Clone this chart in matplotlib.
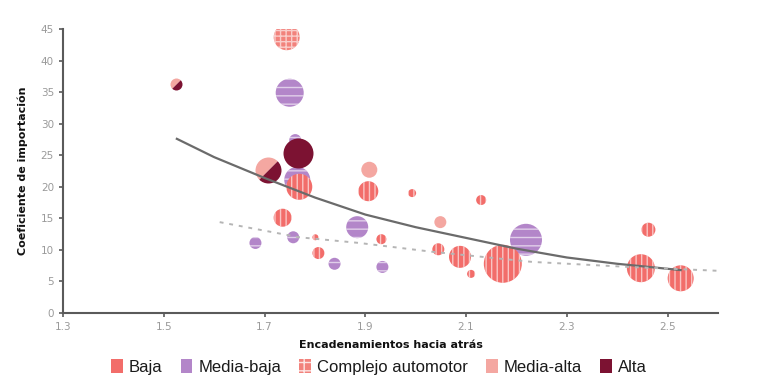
import numpy as np
import matplotlib
matplotlib.use("Agg")
from matplotlib import pyplot as plt
from matplotlib.markers import MarkerStyle
from matplotlib.patches import Patch
from matplotlib.transforms import Affine2D

# categories and colours
categorias = ['Baja', 'Media-baja', 'Complejo automotor', 'Media-alta', 'Alta']
colores = {'Baja': '#f26d6a', 'Media-baja': '#b386c9', 'Complejo automotor': '#f2827c',
           'Media-alta': '#f4a7a1', 'Alta': '#7c1232'}
tramas = {'Baja': '|||', 'Media-baja': '--', 'Complejo automotor': '+++',
          'Media-alta': None, 'Alta': None}

# bubbles: x, y, diameter (px), category
bx = [1.744, 1.750, 1.761, 1.767, 1.765, 1.769, 1.908, 1.906, 1.993, 2.130,
      1.736, 2.049, 1.884, 2.462, 2.219, 1.682, 1.757, 1.801, 1.932, 1.807,
      1.839, 1.934, 2.045, 2.088, 2.110, 2.173, 2.447, 2.526]
by = [43.7, 34.9, 27.4, 25.4, 21.1, 20.0, 22.7, 19.3, 19.0, 17.9,
      15.1, 14.4, 13.6, 13.2, 11.6, 11.1, 12.0, 12.0, 11.7, 9.5,
      7.8, 7.3, 10.1, 8.9, 6.2, 7.8, 7.1, 5.5]
bdiam = [26, 28, 12, 30, 26, 26, 16, 20, 8, 10,
         18, 12, 22, 14, 32, 12, 12, 6, 10, 12,
         12, 12, 12, 22, 8, 38, 28, 26]
bcat = ['Complejo automotor', 'Media-baja', 'Media-baja', 'Alta', 'Media-baja', 'Baja',
        'Media-alta', 'Baja', 'Baja', 'Baja',
        'Baja', 'Media-alta', 'Media-baja', 'Baja', 'Media-baja', 'Media-baja',
        'Media-baja', 'Baja', 'Baja', 'Baja',
        'Media-baja', 'Media-baja', 'Baja', 'Baja', 'Baja', 'Baja', 'Baja', 'Baja']

# half Media-alta / half Alta bubbles
sx = [1.524, 1.706]
sy = [36.3, 22.7]
sdiam = [12, 26]

# trend lines
curva_x = [1.526, 1.6, 1.7, 1.8, 1.9, 2.0, 2.1, 2.2, 2.3, 2.4, 2.526]
curva_y = [27.6, 24.7, 21.4, 18.3, 15.6, 13.6, 11.9, 10.2, 8.8, 7.8, 6.8]
punt_x = [1.611, 1.769, 1.888, 2.033, 2.231, 2.423, 2.597]
punt_y = [14.4, 12.0, 11.1, 9.7, 8.1, 7.3, 6.7]

plt.rcParams['hatch.color'] = (1, 1, 1, 0.6)
plt.rcParams['hatch.linewidth'] = 1.0

fig = plt.figure(figsize=(7.7, 3.92), dpi=100)
ax = fig.add_axes([0.0818, 0.2015, 0.8506, 0.7245])

orden = ['Media-baja', 'Complejo automotor', 'Media-alta', 'Baja', 'Alta']
for z, cat in enumerate(orden):
    idx = [i for i in range(len(bx)) if bcat[i] == cat]
    if not idx:
        continue
    xs = np.array(bx)[idx]
    ys = np.array(by)[idx]
    ss = (np.array(bdiam)[idx] * 0.72) ** 2
    ax.scatter(xs, ys, s=ss, c=colores[cat], hatch=tramas[cat],
               edgecolors=(1, 1, 1, 0.6), linewidths=0, zorder=2 + z * 0.1)

for x, y, d in zip(sx, sy, sdiam):
    m = MarkerStyle('o', fillstyle='left', transform=Affine2D().rotate_deg(-45))
    ax.plot([x], [y], linestyle='none', marker=m, markersize=d * 0.72,
            markerfacecolor=colores['Media-alta'], markerfacecoloralt=colores['Alta'],
            markeredgewidth=0, zorder=3)

ax.plot(curva_x, curva_y, color='#6b6b6b', lw=1.6, zorder=4)
ax.plot(punt_x, punt_y, color='#b5b5b5', lw=1.4, linestyle=(0, (2, 3)), zorder=4)

ax.set_xlim(1.3, 2.6)
ax.set_ylim(0, 45)
ax.set_xticks([1.3, 1.5, 1.7, 1.9, 2.1, 2.3, 2.5])
ax.set_xticklabels(['1.3', '1.5', '1.7', '1.9', '2.1', '2.3', '2.5'])
ax.set_yticks(range(0, 46, 5))
for s in ['top', 'right']:
    ax.spines[s].set_visible(False)
for s in ['left', 'bottom']:
    ax.spines[s].set_color('#5a5a5a')
    ax.spines[s].set_linewidth(1.5)
ax.tick_params(axis='both', colors='#5a5a5a', labelcolor='#9a9a9a', labelsize=7.5,
               length=3, width=1.2)
ax.set_xlabel('Encadenamientos hacia atrás', fontsize=8, fontweight='bold', color='#111111',
              labelpad=6)
ax.set_ylabel('Coeficiente de importación', fontsize=8, fontweight='bold', color='#111111',
              labelpad=9)

handles = [Patch(facecolor=colores[c], edgecolor=(1, 1, 1, 0.8), linewidth=0,
                 hatch=('++' if c == 'Complejo automotor' else None)) for c in categorias]
leg = fig.legend(handles, categorias, loc='center', bbox_to_anchor=(0.492, 0.064), ncol=5,
                 frameon=False, handlelength=0.7, handleheight=0.9,
                 handletextpad=0.35, columnspacing=1.1,
                 prop={'family': ['Liberation Sans', 'DejaVu Sans'], 'size': 12})
for t in leg.get_texts():
    t.set_color('#1a1a1a')

fig.savefig('out.png', dpi=100)
